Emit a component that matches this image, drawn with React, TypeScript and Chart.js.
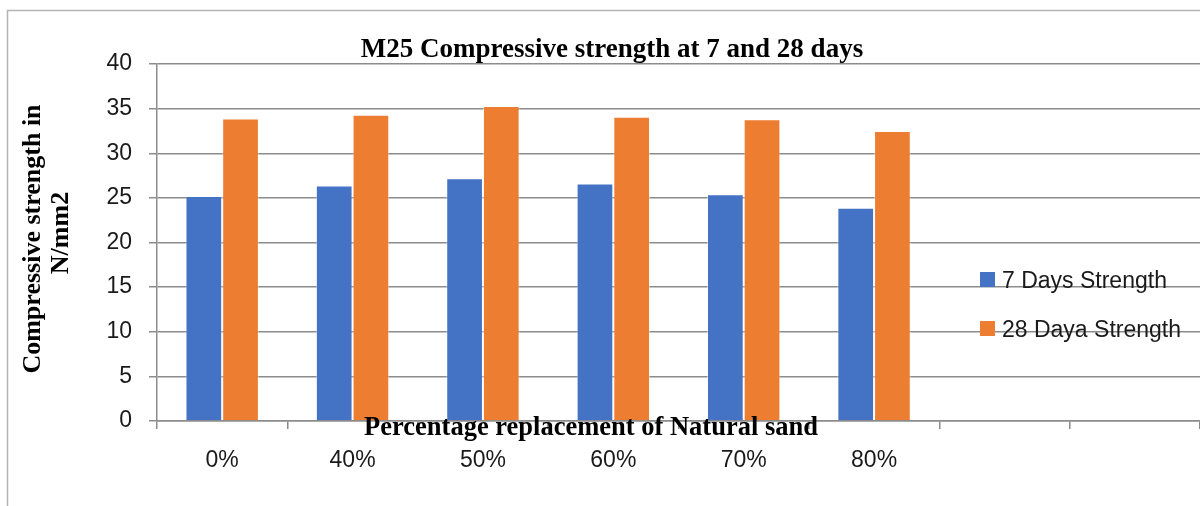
import React, { useEffect, useRef } from "react";
import { Chart, registerables } from "chart.js";

Chart.register(...registerables);

const categories = ["0%", "40%", "50%", "60%", "70%", "80%", "", ""];
const days7 = [25.2, 26.4, 27.2, 26.6, 25.4, 23.9, null, null];
const days28 = [33.9, 34.3, 35.3, 34.1, 33.8, 32.5, null, null];
const seriesNames = ["7 Days Strength", "28 Daya Strength"];
const seriesColors = ["#4472C4", "#ED7D31"];
const chartTitle = "M25 Compressive strength at 7 and 28 days";
const xTitle = "Percentage replacement of Natural sand";
const yTitleLines = ["Compressive strength in", "N/mm2"];

const SANS = "'Liberation Sans', Arial, sans-serif";
const SERIF = "'Liberation Serif', 'Times New Roman', serif";

const decor = {
  id: "decor",
  beforeDraw(chart: any) {
    const ctx = chart.ctx;
    ctx.save();
    ctx.fillStyle = "#ffffff";
    ctx.fillRect(0, 0, chart.width, chart.height);
    ctx.strokeStyle = "#b4b4b4";
    ctx.lineWidth = 1.5;
    ctx.beginPath();
    ctx.moveTo(7.5, chart.height);
    ctx.lineTo(7.5, 10.5);
    ctx.lineTo(chart.width, 10.5);
    ctx.stroke();
    ctx.restore();
  },
  afterDraw(chart: any) {
    const ctx = chart.ctx;
    ctx.save();
    ctx.fillStyle = "#000";
    ctx.textAlign = "center";
    ctx.textBaseline = "alphabetic";
    ctx.font = `bold 27px ${SERIF}`;
    ctx.fillText(chartTitle, 612, 57);
    ctx.font = `bold 26.5px ${SERIF}`;
    ctx.fillText(xTitle, 591, 435);
    ctx.font = `bold 26px ${SERIF}`;
    // y title
    ctx.save();
    ctx.translate(40, 239);
    ctx.rotate(-Math.PI / 2);
    ctx.fillText(yTitleLines[0], 0, 0);
    ctx.restore();
    ctx.save();
    ctx.translate(68, 233);
    ctx.rotate(-Math.PI / 2);
    ctx.fillText(yTitleLines[1], 0, 0);
    ctx.restore();
    // legend
    ctx.textAlign = "left";
    ctx.font = `23px ${SANS}`;
    const rows = [272, 321];
    rows.forEach((y, i) => {
      ctx.fillStyle = seriesColors[i];
      ctx.fillRect(980, y, 15, 15);
      ctx.fillStyle = "#1a1a1a";
      ctx.fillText(seriesNames[i], 1002, y + 16);
    });
    ctx.restore();
  },
};

export default function App() {
  const ref = useRef<HTMLCanvasElement>(null);
  useEffect(() => {
    if (!ref.current) return;
    const chart = new Chart(ref.current, {
      type: "bar",
      data: {
        labels: categories,
        datasets: [
          {
            label: seriesNames[0],
            data: days7,
            backgroundColor: seriesColors[0],
            borderColor: "rgba(255,255,255,0.45)",
            borderWidth: 1,
            barPercentage: 1,
            categoryPercentage: 0.563,
          },
          {
            label: seriesNames[1],
            data: days28,
            backgroundColor: seriesColors[1],
            borderColor: "rgba(255,255,255,0.45)",
            borderWidth: 1,
            barPercentage: 1,
            categoryPercentage: 0.563,
          },
        ],
      },
      options: {
        responsive: false,
        animation: false,
        devicePixelRatio: 1,
        layout: { padding: { top: 64, left: 0, right: 0, bottom: 0 } },
        plugins: {
          legend: { display: false },
          title: { display: false },
          tooltip: { enabled: false },
        },
        scales: {
          x: {
            offset: true,
            grid: {
              display: true,
              drawOnChartArea: false,
              drawTicks: true,
              tickLength: 8,
              color: "#8c8c8c",
              lineWidth: 1.5,
              offset: true,
            },
            border: { display: true, color: "#8c8c8c", width: 1.5 },
            ticks: {
              font: { family: SANS, size: 23 },
              color: "#1a1a1a",
              padding: 18,
              maxRotation: 0,
              autoSkip: false,
            },
            afterFit: (s: any) => {
              s.height = 85;
            },
          },
          y: {
            min: 0,
            max: 40,
            ticks: {
              stepSize: 5,
              font: { family: SANS, size: 23 },
              color: "#1a1a1a",
              padding: 17,
            },
            grid: { color: "#8c8c8c", lineWidth: 1.5, tickLength: 8 },
            border: { display: true, color: "#8c8c8c", width: 1.5 },
            afterFit: (s: any) => {
              s.width = 157;
            },
          },
        },
      },
      plugins: [decor],
    });
    return () => chart.destroy();
  }, []);
  return (
    <div style={{ position: "fixed", left: 0, top: 0, width: 1200, height: 506 }}>
      <canvas ref={ref} width={1200} height={506} style={{ width: 1200, height: 506, display: "block" }} />
    </div>
  );
}
